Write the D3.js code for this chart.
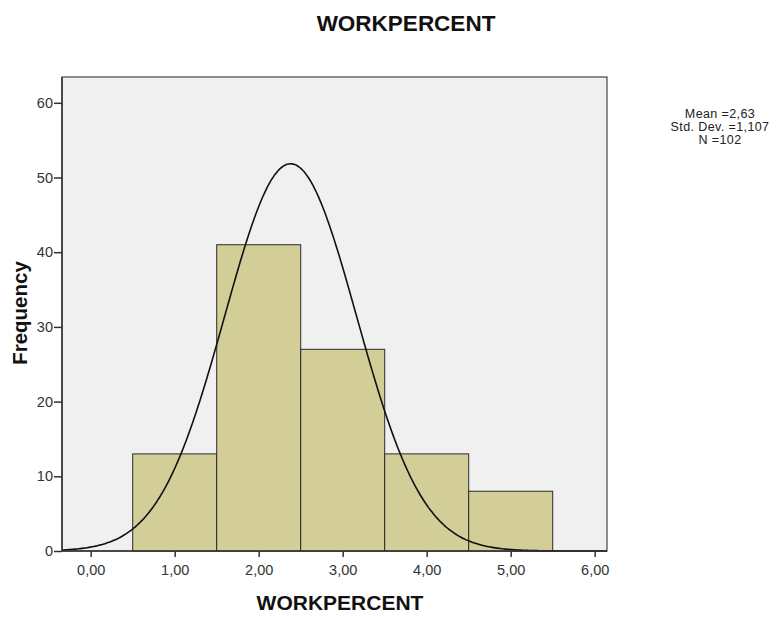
<!DOCTYPE html>
<html>
<head>
<meta charset="utf-8">
<script src="https://cdn.jsdelivr.net/npm/d3@7"></script>
<style>
  body { margin: 0; background: #fff; }
  text { font-family: "Liberation Sans", Arial, sans-serif; }
</style>
</head>
<body>
<svg id="chart" width="780" height="617"></svg>
<script>
// histogram data
const binCenters = [1, 2, 3, 4, 5];
const frequencies = [13, 41, 27, 13, 8];
const binWidth = 1;
const xTicks = [0, 1, 2, 3, 4, 5, 6];
const yTicks = [0, 10, 20, 30, 40, 50, 60];
const statLines = ["Mean =2,63", "Std. Dev. =1,107", "N =102"];
// normal curve as drawn
const curveMean = 2.38;
const curveSd = 0.785;
const curveN = 102;

const plot = {left: 62, right: 607, top: 77, bottom: 551};

const svg = d3.select("#chart");

const x = d3.scaleLinear().domain([0, 6]).range([90.7, 594.7]);
const y = d3.scaleLinear().domain([0, 60]).range([plot.bottom, 102.8]);

// background
svg.append("rect")
  .attr("x", plot.left).attr("y", plot.top)
  .attr("width", plot.right - plot.left).attr("height", plot.bottom - plot.top)
  .attr("fill", "#f0f0f0")
  .attr("stroke", "#222").attr("stroke-width", 1);

// bars
svg.selectAll("rect.bar")
  .data(binCenters)
  .enter().append("rect")
  .attr("class", "bar")
  .attr("x", d => x(d - binWidth / 2))
  .attr("width", d => x(d + binWidth / 2) - x(d - binWidth / 2))
  .attr("y", (d, i) => y(frequencies[i]))
  .attr("height", (d, i) => y(0) - y(frequencies[i]))
  .attr("fill", "#d3ce98")
  .attr("stroke", "#2b2b2b")
  .attr("stroke-width", 1);

// normal curve
const xMin = x.invert(plot.left), xMax = x.invert(plot.right);
const pts = d3.range(xMin, xMax, 0.02).concat([xMax]);
const dens = v => curveN * binWidth / (curveSd * Math.sqrt(2 * Math.PI)) *
  Math.exp(-0.5 * Math.pow((v - curveMean) / curveSd, 2));
svg.append("path")
  .datum(pts)
  .attr("fill", "none")
  .attr("stroke", "#111")
  .attr("stroke-width", 1.6)
  .attr("d", d3.line().curve(d3.curveMonotoneX).x(d => x(d)).y(d => y(dens(d))));

// axes
const fmt = d => d.toFixed(2).replace(".", ",");
const xAxis = svg.append("g")
  .attr("transform", "translate(0," + plot.bottom + ")")
  .call(d3.axisBottom(x).tickValues(xTicks).tickFormat(fmt).tickSize(6).tickSizeOuter(0));
xAxis.select(".domain").attr("d", "M" + plot.left + ",0H" + plot.right);

const yAxis = svg.append("g")
  .attr("transform", "translate(" + plot.left + ",0)")
  .call(d3.axisLeft(y).tickValues(yTicks).tickSize(8).tickSizeOuter(0));
yAxis.select(".domain").attr("d", "M0," + plot.top + "V" + plot.bottom);

[xAxis, yAxis].forEach(a => {
  a.select(".domain").attr("stroke", "#333").attr("stroke-width", 1.5);
  a.selectAll(".tick line").attr("stroke", "#333").attr("stroke-width", 1.5);
  a.selectAll(".tick text")
    .attr("fill", "#333")
    .style("font-family", "'Liberation Sans', Arial, sans-serif")
    .style("font-size", "14.5px");
});
xAxis.selectAll(".tick text").attr("y", 14).attr("dy", "0.71em");
yAxis.selectAll(".tick text").attr("x", -9);

// titles
svg.append("text")
  .attr("x", 406).attr("y", 31)
  .attr("text-anchor", "middle")
  .style("font-size", "22.5px").style("font-weight", "bold")
  .attr("fill", "#111")
  .text("WORKPERCENT");

svg.append("text")
  .attr("x", 340).attr("y", 610)
  .attr("text-anchor", "middle")
  .style("font-size", "21px").style("font-weight", "bold")
  .attr("fill", "#111")
  .text("WORKPERCENT");

svg.append("text")
  .attr("transform", "translate(27,313) rotate(-90)")
  .attr("text-anchor", "middle")
  .style("font-size", "20.5px").style("font-weight", "bold")
  .attr("fill", "#111")
  .text("Frequency");

// stats box
svg.append("g")
  .selectAll("text")
  .data(statLines)
  .enter().append("text")
  .attr("x", 720)
  .attr("y", (d, i) => 118 + i * 13)
  .attr("text-anchor", "middle")
  .style("font-size", "12.5px")
  .style("letter-spacing", "0.4px")
  .attr("fill", "#222")
  .text(d => d);
</script>
</body>
</html>
